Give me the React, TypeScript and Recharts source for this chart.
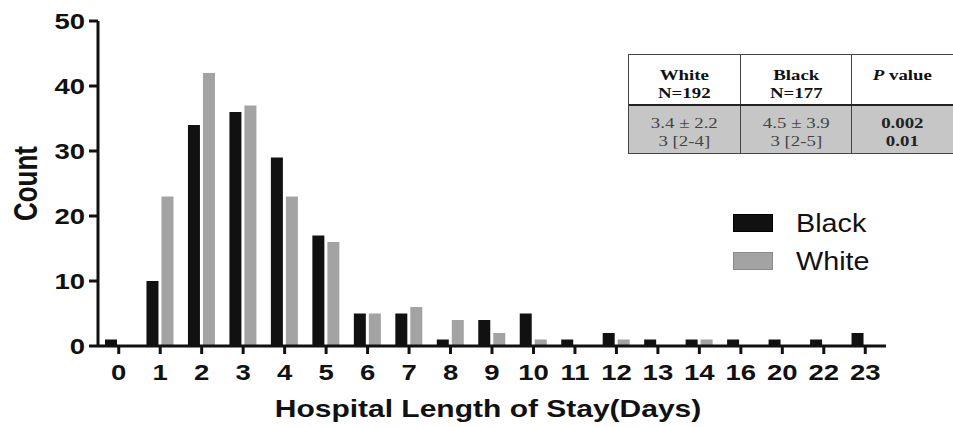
import React from "react";
import { BarChart, Bar, XAxis, YAxis, Legend } from "recharts";

const days = ["0", "1", "2", "3", "4", "5", "6", "7", "8", "9", "10", "11", "12", "13", "14", "16", "20", "22", "23"];
const blackCounts = [1, 10, 34, 36, 29, 17, 5, 5, 1, 4, 5, 1, 2, 1, 1, 1, 1, 1, 2];
const whiteCounts = [0, 23, 42, 37, 23, 16, 5, 6, 4, 2, 1, 0, 1, 0, 1, 0, 0, 0, 0];
const yTicks = [0, 10, 20, 30, 40, 50];

const tableHead = [["White", "N=192"], ["Black", "N=177"], ["P value"]];
const tableBody = [["3.4 ± 2.2", "3 [2-4]"], ["4.5 ± 3.9", "3 [2-5]"], ["0.002", "0.01"]];
const tableCols = [111, 112, 102];

const data = days.map((d, i) => ({ day: d, black: blackCounts[i], white: whiteCounts[i] }));

const FONT = "'Liberation Sans', Arial, sans-serif";
const SERIF = "'Liberation Serif', 'Times New Roman', serif";
const STRETCH = 1.25;

function XTick(props: any) {
  const { x, y, payload } = props;
  return (
    <text
      transform={`translate(${x},${y + 24}) scale(${STRETCH},1)`}
      textAnchor="middle"
      fontFamily={FONT}
      fontWeight="bold"
      fontSize={22}
      fill="#111"
    >
      {payload.value}
    </text>
  );
}

function YTick(props: any) {
  const { x, y, payload } = props;
  return (
    <text
      transform={`translate(${x - 2},${y + 8}) scale(${STRETCH},1)`}
      textAnchor="end"
      fontFamily={FONT}
      fontWeight="bold"
      fontSize={22}
      fill="#111"
    >
      {payload.value}
    </text>
  );
}

function YTitle(props: any) {
  const vb = props.viewBox || {};
  const cy = vb.y + vb.height / 2;
  return (
    <text
      transform={`translate(37,${cy}) rotate(-90) scale(1,${STRETCH})`}
      textAnchor="middle"
      fontFamily={FONT}
      fontWeight="bold"
      fontSize={26}
      fill="#111"
    >
      Count
    </text>
  );
}

function XTitle(props: any) {
  const vb = props.viewBox || {};
  return (
    <text
      transform={`translate(${vb.x + vb.width / 2 - 4},${vb.y + 71}) scale(${STRETCH},1)`}
      textAnchor="middle"
      fontFamily={FONT}
      fontWeight="bold"
      fontSize={24}
      fill="#111"
    >
      Hospital Length of Stay(Days)
    </text>
  );
}

function LegendBox(props: any) {
  const items = props.payload || [];
  return (
    <div>
      {items.map((it: any) => (
        <div key={it.value} style={{ display: "flex", alignItems: "center", height: 38 }}>
          <div
            style={{
              width: 40,
              height: 18,
              background: it.color,
              boxSizing: "border-box",
              border: `1px solid ${it.color === "#111111" ? "#000" : "#8a8a8a"}`,
            }}
          />
          <span
            style={{
              marginLeft: 23,
              fontFamily: FONT,
              fontSize: 25,
              color: "#111",
              display: "inline-block",
              transform: "scaleX(1.15)",
              transformOrigin: "left center",
            }}
          >
            {it.value}
          </span>
        </div>
      ))}
    </div>
  );
}

function StatsTable() {
  return (
    <div
      style={{
        position: "absolute",
        left: 628,
        top: 54,
        width: 325,
        border: "1.5px solid #444",
        borderRight: "none",
        boxSizing: "border-box",
        fontFamily: SERIF,
        fontSize: 14.5,
        lineHeight: "18px",
      }}
    >
      <div style={{ display: "flex", height: 49, borderBottom: "2px solid #222", background: "#fff" }}>
        {tableHead.map((lines, c) => (
          <div
            key={c}
            style={{
              width: tableCols[c],
              borderLeft: c > 0 ? "1.5px solid #444" : "none",
              textAlign: "center",
              paddingTop: 11,
              boxSizing: "border-box",
              fontWeight: "bold",
              color: "#111",
            }}
          >
            {lines.map((t) => (
              <div key={t} style={{ transform: "scaleX(1.3)" }}>
                {t === "P value" ? (
                  <>
                    <i>P</i> value
                  </>
                ) : (
                  t
                )}
              </div>
            ))}
          </div>
        ))}
      </div>
      <div style={{ display: "flex", height: 47, background: "#c6c6c6" }}>
        {tableBody.map((lines, c) => (
          <div
            key={c}
            style={{
              width: tableCols[c],
              borderLeft: c > 0 ? "1.5px solid #444" : "none",
              textAlign: "center",
              paddingTop: 8,
              boxSizing: "border-box",
              fontWeight: c === 2 ? "bold" : "normal",
              color: c === 2 ? "#222" : "#444",
            }}
          >
            {lines.map((t) => (
              <div key={t} style={{ transform: "scaleX(1.3)" }}>
                {t}
              </div>
            ))}
          </div>
        ))}
      </div>
    </div>
  );
}

export default function App() {
  return (
    <div style={{ position: "absolute", left: 0, top: 0, width: 953, height: 427, background: "#fff" }}>
      <BarChart
        width={953}
        height={427}
        data={data}
        margin={{ top: 21, right: 67, left: 0, bottom: 0 }}
        barSize={12}
        barGap={3}
      >
        <XAxis
          dataKey="day"
          height={81}
          interval={0}
          stroke="#111"
          strokeWidth={3}
          tickSize={8}
          tickLine={{ stroke: "#111", strokeWidth: 3 }}
          tick={<XTick />}
          label={<XTitle />}
        />
        <YAxis
          width={98}
          domain={[0, 50]}
          ticks={yTicks}
          interval={0}
          stroke="#111"
          strokeWidth={3}
          tickSize={9}
          tickLine={{ stroke: "#111", strokeWidth: 3 }}
          tick={<YTick />}
          label={<YTitle />}
        />
        <Legend
          layout="vertical"
          align="center"
          verticalAlign="middle"
          content={<LegendBox />}
          wrapperStyle={{ position: "absolute", left: 733, top: 204, width: 200 }}
        />
        <Bar dataKey="black" name="Black" fill="#111111" isAnimationActive={false} />
        <Bar dataKey="white" name="White" fill="#a3a3a3" isAnimationActive={false} />
      </BarChart>
      <StatsTable />
    </div>
  );
}
